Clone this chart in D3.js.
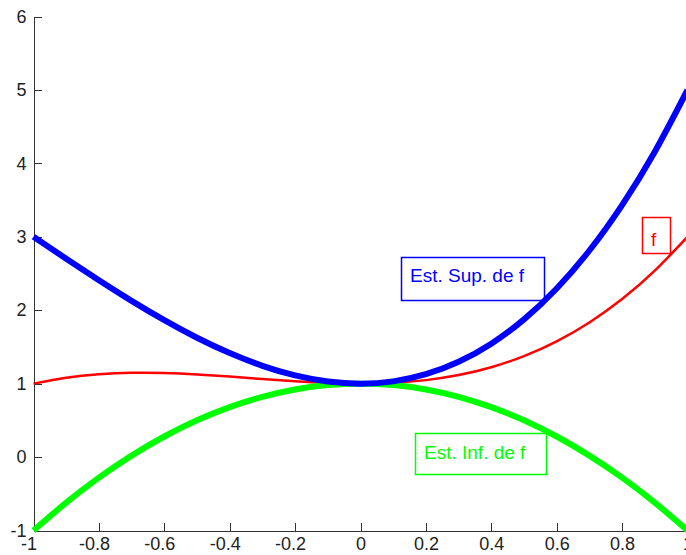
<!DOCTYPE html>
<html>
<head>
<meta charset="utf-8">
<script src="https://cdn.jsdelivr.net/npm/d3@7"></script>
<style>
  html, body { margin: 0; padding: 0; background: #fff; overflow: hidden; }
  svg { display: block; }
  text { font-family: "Liberation Sans", Arial, sans-serif; }
</style>
</head>
<body>
<svg id="chart" width="686" height="555"></svg>
<script>
// Sample positions along x
const xs = [-1, -0.9, -0.8, -0.7, -0.6, -0.5, -0.4, -0.3, -0.2, -0.1, 0,
            0.1, 0.2, 0.3, 0.4, 0.5, 0.6, 0.7, 0.8, 0.9, 1];

// f
const fVals = [1.00, 1.081, 1.128, 1.147, 1.144, 1.125, 1.096, 1.063, 1.032, 1.009, 1.00,
               1.011, 1.048, 1.117, 1.224, 1.375, 1.576, 1.833, 2.152, 2.539, 3.00];

// upper estimate of f
const supVals = [3.00, 2.701, 2.408, 2.127, 1.864, 1.625, 1.416, 1.243, 1.112, 1.029, 1.00,
                 1.031, 1.128, 1.297, 1.544, 1.875, 2.296, 2.813, 3.432, 4.159, 5.00];

// lower estimate of f
const infVals = [-1.00, -0.62, -0.28, 0.02, 0.28, 0.50, 0.68, 0.82, 0.92, 0.98, 1.00,
                 0.98, 0.92, 0.82, 0.68, 0.50, 0.28, 0.02, -0.28, -0.62, -1.00];

const xTicks = [-1, -0.8, -0.6, -0.4, -0.2, 0, 0.2, 0.4, 0.6, 0.8, 1];
const yTicks = [-1, 0, 1, 2, 3, 4, 5, 6];

const svg = d3.select("#chart");

const x = d3.scaleLinear().domain([-1, 1]).range([33.5, 687.5]);
const y = d3.scaleLinear().domain([-1, 6]).range([530.5, 16.5]);

const fmt = d => String(d);

// axes
const gx = svg.append("g")
  .attr("transform", `translate(0,${y(-1)})`)
  .call(d3.axisBottom(x).tickValues(xTicks).tickSizeInner(-8).tickSizeOuter(0)
        .tickPadding(7).tickFormat(fmt));
const gy = svg.append("g")
  .attr("transform", `translate(${x(-1)},0)`)
  .call(d3.axisLeft(y).tickValues(yTicks).tickSizeInner(-8).tickSizeOuter(0)
        .tickPadding(7).tickFormat(fmt));

[gx, gy].forEach(g => {
  g.selectAll("path, line").attr("stroke", "#333").attr("stroke-width", 1)
    .attr("shape-rendering", "crispEdges");
  g.selectAll("text").attr("fill", "#222").style("font-size", "18px")
    .style("font-family", "'Liberation Sans', Arial, sans-serif");
});
gx.selectAll(".tick text").attr("dx", d => (d < 0 ? -5 : 0));

// curves
const line = vals => d3.line()
  .x((d, i) => x(xs[i]))
  .y(d => y(d))
  .curve(d3.curveNatural)(vals);

svg.append("path").attr("d", line(fVals))
  .attr("fill", "none").attr("stroke", "#ff0000").attr("stroke-width", 2.5);
svg.append("path").attr("d", line(infVals))
  .attr("fill", "none").attr("stroke", "#00ff00").attr("stroke-width", 6);
svg.append("path").attr("d", line(supVals))
  .attr("fill", "none").attr("stroke", "#0000ff").attr("stroke-width", 6);

// boxed labels
const labels = [
  { text: "Est. Sup. de f", color: "#0000ff", box: [401, 257, 143, 43], tx: 410, ty: 282 },
  { text: "Est. Inf. de f", color: "#00ff00", box: [415, 433, 131, 41], tx: 424, ty: 459 },
  { text: "f", color: "#ff0000", box: [642, 217, 28, 36], tx: 651, ty: 246 }
];
labels.forEach(l => {
  svg.append("rect")
    .attr("x", l.box[0] + 0.5).attr("y", l.box[1] + 0.5)
    .attr("width", l.box[2]).attr("height", l.box[3])
    .attr("fill", "none").attr("stroke", l.color).attr("stroke-width", 1.5);
  svg.append("text")
    .attr("x", l.tx).attr("y", l.ty)
    .attr("fill", l.color).style("font-size", "19px")
    .text(l.text);
});
</script>
</body>
</html>
